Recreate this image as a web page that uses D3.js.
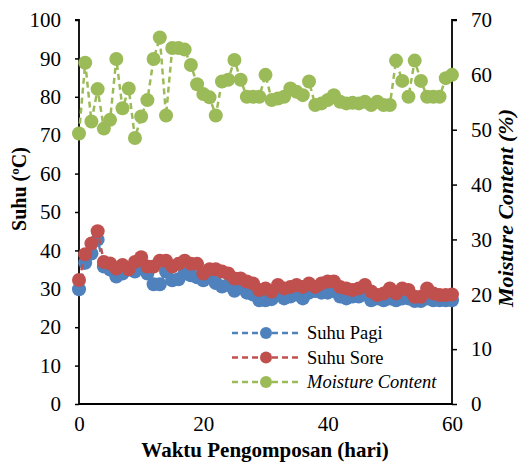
<!DOCTYPE html>
<html>
<head>
<meta charset="utf-8">
<script src="https://cdn.jsdelivr.net/npm/d3@7"></script>
<style>
  body { margin: 0; background: #fff; }
</style>
</head>
<body>
<svg id="chart" width="518" height="462"></svg>
<script>
// hari ke-0 .. ke-60
const days = d3.range(0, 61);

// suhu pagi (C)
const suhuPagi = [29.9, 36.8, 39.2, 42.8, 35.8, 35, 33.2, 34, 35, 34.5,
  36, 34, 31.2, 31.2, 34.5, 32.2, 32.5, 34, 33.5, 33,
  32.2, 33, 31.5, 30.6, 31, 29.5, 30.6, 29, 28.5, 27,
  27, 27.3, 28.5, 27.5, 28, 28.5, 27.5, 29, 29.4, 29,
  29, 29.4, 28, 27.5, 28, 28, 28.5, 27, 27.5, 27,
  27.5, 27, 27.5, 27.5, 26.8, 26.8, 27.5, 27, 27, 27, 27];

// suhu sore (C)
const suhuSore = [32.3, 39, 41.8, 45, 37, 36.6, 35.3, 36.2, 35.1, 37,
  38.2, 35.8, 35.8, 37.3, 37.3, 35.8, 36.5, 37.3, 36.5, 36.5,
  34, 35.1, 35.1, 34.5, 34, 32.7, 32.7, 31.9, 31.4, 29.7,
  30.1, 29.3, 31, 30.1, 30.5, 31, 30.5, 31.4, 30.5, 31.4,
  31.9, 31.9, 30.5, 30.1, 29.7, 30.1, 31, 29.3, 28.4, 28.8,
  30.1, 28.8, 30.1, 29.7, 27.9, 27.9, 30.1, 28.8, 28.4, 28.4, 28.5];

// moisture content (%)
const moisture = [49.3, 62.2, 51.5, 57.4, 50.2, 51.8, 62.9, 53.9, 57.5, 48.5,
  52.4, 55.4, 62.9, 66.8, 52.6, 64.9, 64.9, 64.6, 61.8, 58.3,
  56.5, 55.9, 52.6, 58.8, 59.1, 62.7, 59.1, 56, 56, 56,
  60, 55.4, 55.7, 56, 57.5, 56.9, 56.3, 58.8, 54.5, 54.8,
  55.4, 56.3, 55.1, 54.8, 54.9, 54.8, 55.1, 54.5, 55.1, 54.5,
  54.5, 62.6, 58.9, 56, 62.6, 58.9, 56, 56, 56, 59.4, 60];

const xTicks = [0, 20, 40, 60];
const yTicksL = d3.range(0, 101, 10);
const yTicksR = d3.range(0, 71, 10);

const seriesNames = ["Suhu Pagi", "Suhu Sore", "Moisture Content"];
const colors = ["#4f81bd", "#c0504d", "#9bbb59"];

const FONT = "'Liberation Serif', 'Times New Roman', serif";

const svg = d3.select("#chart").attr("font-family", FONT);
const m = {left: 79, right: 452, top: 20, bottom: 404};

const x = d3.scaleLinear().domain([0, 60]).range([m.left, m.right]);
const yL = d3.scaleLinear().domain([0, 100]).range([m.bottom, m.top]);
const yR = d3.scaleLinear().domain([0, 70]).range([m.bottom, m.top]);

// axes
const axL = svg.append("g").attr("transform", `translate(${m.left},0)`)
  .call(d3.axisLeft(yL).tickValues(yTicksL).tickSize(4).tickPadding(14));
const axR = svg.append("g").attr("transform", `translate(${m.right},0)`)
  .call(d3.axisRight(yR).tickValues(yTicksR).tickSize(5).tickPadding(14));
const axB = svg.append("g").attr("transform", `translate(0,${m.bottom})`)
  .call(d3.axisBottom(x).tickValues(xTicks).tickSize(0).tickPadding(12));

[axL, axR, axB].forEach(a => {
  a.attr("font-family", FONT).attr("font-size", 21);
  a.select(".domain").attr("stroke", "#000").attr("stroke-width", 1.8);
  a.selectAll(".tick line").attr("stroke", "#000").attr("stroke-width", 1.5);
  a.selectAll("text").attr("fill", "#000");
});
axB.select(".domain").attr("d", `M${m.left},0H${m.right}`);
axL.select(".domain").attr("d", `M-4,${m.top}H0V${m.bottom}`);
axR.select(".domain").attr("d", `M5,${m.top}H0V${m.bottom}`);

// data series
const data = [
  {vals: suhuPagi, y: yL},
  {vals: suhuSore, y: yL},
  {vals: moisture, y: yR}
];

data.forEach((s, i) => {
  const pts = days.map((d, j) => [x(d), s.y(s.vals[j])]);
  svg.append("path")
    .attr("d", d3.line()(pts))
    .attr("fill", "none")
    .attr("stroke", colors[i])
    .attr("stroke-width", 2.5)
    .attr("stroke-dasharray", "6,4");
  svg.append("g").selectAll("circle")
    .data(pts).join("circle")
    .attr("cx", d => d[0]).attr("cy", d => d[1])
    .attr("r", 7).attr("fill", colors[i]);
});

// axis titles
svg.append("text")
  .attr("transform", "translate(26,189) rotate(-90)")
  .attr("text-anchor", "middle")
  .attr("font-size", 20).attr("font-weight", "bold")
  .text("Suhu (ºC)");

svg.append("text")
  .attr("transform", "translate(513,208) rotate(-90)")
  .attr("text-anchor", "middle")
  .attr("font-size", 22).attr("font-weight", "bold").attr("font-style", "italic")
  .text("Moisture Content (%)");

svg.append("text")
  .attr("x", 265).attr("y", 457)
  .attr("text-anchor", "middle")
  .attr("font-size", 21).attr("font-weight", "bold")
  .text("Waktu Pengomposan (hari)");

// legend
const lg = svg.append("g");
seriesNames.forEach((n, i) => {
  const yy = 333 + i * 24.5;
  lg.append("line")
    .attr("x1", 232).attr("x2", 300).attr("y1", yy).attr("y2", yy)
    .attr("stroke", colors[i]).attr("stroke-width", 2.5)
    .attr("stroke-dasharray", "6,4");
  lg.append("circle").attr("cx", 266).attr("cy", yy).attr("r", 6).attr("fill", colors[i]);
  lg.append("text").attr("x", 307).attr("y", yy + 6)
    .attr("font-size", 18.5)
    .attr("font-style", i == 2 ? "italic" : "normal")
    .text(n);
});
</script>
</body>
</html>
